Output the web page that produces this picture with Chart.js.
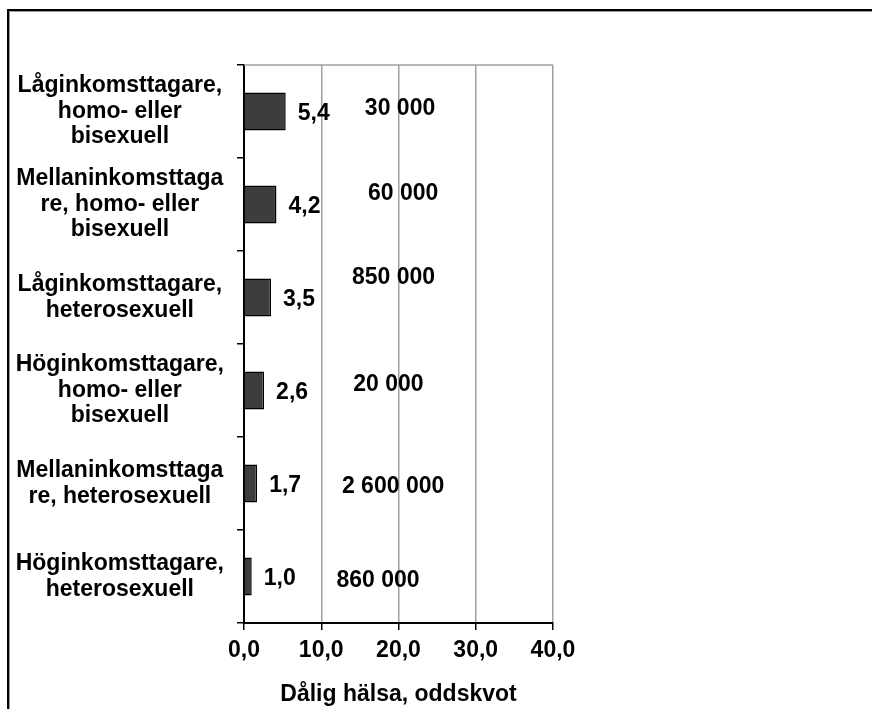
<!DOCTYPE html>
<html>
<head>
<meta charset="utf-8">
<script src="https://cdn.jsdelivr.net/npm/chart.js@4/dist/chart.umd.min.js"></script>
<style>
  html, body { margin: 0; padding: 0; background: #fff; overflow: hidden; }
  #frame {
    position: absolute; left: 7px; top: 9px; width: 900px; height: 740px;
    border-left: 2px solid #000; border-top: 2px solid #000;
    box-shadow: inset 1px 1px 0 #9a9a9a;
  }
  #c { position: absolute; left: 0; top: 0; }
</style>
</head>
<body>
<div id="frame"></div>
<canvas id="c" width="872" height="709"></canvas>
<script>
// Groups, top to bottom (each label split into its printed lines)
const categories = [
  ['Låginkomsttagare,', 'homo- eller', 'bisexuell'],
  ['Mellaninkomsttaga', 're, homo- eller', 'bisexuell'],
  ['Låginkomsttagare,', 'heterosexuell'],
  ['Höginkomsttagare,', 'homo- eller', 'bisexuell'],
  ['Mellaninkomsttaga', 're, heterosexuell'],
  ['Höginkomsttagare,', 'heterosexuell']
];

// Odds ratio for poor health
const oddsRatios = [5.4, 4.2, 3.5, 2.6, 1.7, 1.0];

// Population size of each group
const populations = [30000, 60000, 850000, 20000, 2600000, 860000];

// Value axis ticks
const xTicks = [0, 10, 20, 30, 40];

const axisTitle = 'Dålig hälsa, oddskvot';

// Where each population note sits: x in axis units, dy in px from the row centre
const popNotePlacement = [
  { x: 20.2, dy: -3 },
  { x: 20.6, dy: -11 },
  { x: 19.35, dy: -20 },
  { x: 18.7, dy: -6 },
  { x: 19.3, dy: 3 },
  { x: 17.35, dy: 4 }
];

const FONT_FAMILY = '"Liberation Sans", Arial, sans-serif';
const FONT_SIZE = 23;
const decimalComma = v => Number(v).toFixed(1).replace('.', ',');
const spacedThousands = n => String(n).replace(/\B(?=(\d{3})+(?!\d))/g, ' ');

// Thin grey line along the top of the plot area
const plotTopLine = {
  id: 'plotTopLine',
  beforeDatasetsDraw(chart) {
    const { ctx, chartArea } = chart;
    ctx.save();
    ctx.strokeStyle = '#a0a0a0';
    ctx.lineWidth = 1.5;
    ctx.beginPath();
    ctx.moveTo(chartArea.left, chartArea.top);
    ctx.lineTo(chartArea.right, chartArea.top);
    ctx.stroke();
    ctx.restore();
  }
};

// Value labels beside the bars and population notes in the middle
const barNotes = {
  id: 'barNotes',
  afterDatasetsDraw(chart) {
    const { ctx } = chart;
    const meta = chart.getDatasetMeta(0);
    const xScale = chart.scales.x;
    ctx.save();
    ctx.font = 'bold ' + FONT_SIZE + 'px ' + FONT_FAMILY;
    ctx.fillStyle = '#000';
    ctx.textBaseline = 'middle';
    meta.data.forEach((bar, i) => {
      ctx.textAlign = 'left';
      ctx.fillText(decimalComma(oddsRatios[i]), bar.x + 12, bar.y + 2);
      const p = popNotePlacement[i];
      ctx.textAlign = 'center';
      ctx.fillText(spacedThousands(populations[i]), xScale.getPixelForValue(p.x), bar.y + p.dy);
    });
    ctx.restore();
  }
};

new Chart(document.getElementById('c'), {
  type: 'bar',
  data: {
    labels: categories,
    datasets: [{
      data: oddsRatios,
      backgroundColor: '#3d3d3d',
      borderColor: '#000',
      borderWidth: 1.5,
      barPercentage: 0.41,
      categoryPercentage: 1.0
    }]
  },
  options: {
    indexAxis: 'y',
    responsive: false,
    animation: false,
    layout: { padding: { left: 0, top: 65, right: 319, bottom: 1 } },
    plugins: { legend: { display: false }, tooltip: { enabled: false } },
    scales: {
      x: {
        min: 0, max: 40,
        afterBuildTicks: s => { s.ticks = xTicks.map(v => ({ value: v })); },
        afterFit: s => { s.height = 85; },
        grid: { color: '#a0a0a0', lineWidth: 1.5, tickColor: '#000', tickLength: 7 },
        border: { color: '#000', width: 2 },
        ticks: {
          color: '#000', padding: 7,
          font: { family: FONT_FAMILY, size: FONT_SIZE, weight: 'bold', lineHeight: 1.15 },
          callback: v => decimalComma(v)
        },
        title: {
          display: true, text: axisTitle, color: '#000',
          font: { family: FONT_FAMILY, size: FONT_SIZE, weight: 'bold', lineHeight: 1.15 },
          padding: { top: 18, bottom: 0 }
        }
      },
      y: {
        afterFit: s => { s.width = 244; },
        grid: { drawOnChartArea: false, drawTicks: true, tickLength: 7, color: '#000', tickColor: '#000', lineWidth: 1.5 },
        border: { color: '#000', width: 2 },
        ticks: {
          color: '#000', padding: 13, crossAlign: 'center',
          font: { family: FONT_FAMILY, size: FONT_SIZE, weight: 'bold', lineHeight: 1.11 }
        }
      }
    }
  },
  plugins: [plotTopLine, barNotes]
});
</script>
</body>
</html>
